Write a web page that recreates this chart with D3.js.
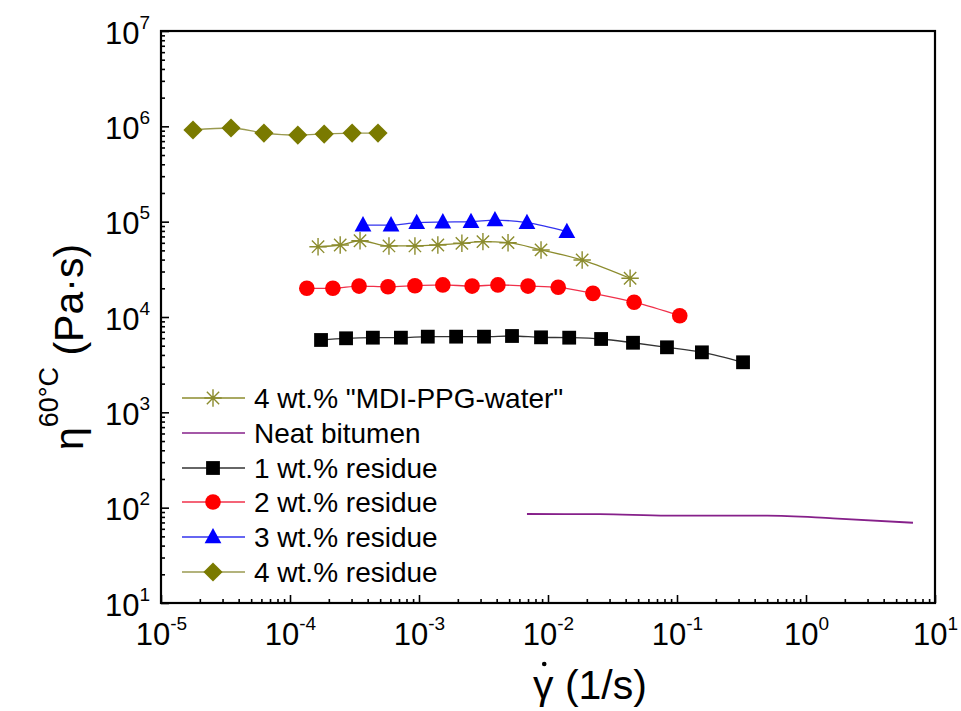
<!DOCTYPE html>
<html>
<head>
<meta charset="utf-8">
<script src="https://cdn.jsdelivr.net/npm/d3@7"></script>
<style>
  body { margin: 0; background: #fff; }
  svg { font-family: "Liberation Sans", Arial, sans-serif; }
</style>
</head>
<body>
<div id="chart"></div>
<script>
// shear rate (1/s) and viscosity (Pa.s)
var rateMdi = [1.65e-4, 2.45e-4, 3.49e-4, 5.85e-4, 9.3e-4, 1.40e-3, 2.15e-3, 3.13e-3, 4.9e-3, 8.83e-3, 1.84e-2, 4.33e-2]
var etaMdi  = [5.46e4, 5.69e4, 6.31e4, 5.56e4, 5.56e4, 5.69e4, 5.93e4, 6.17e4, 6.02e4, 5.05e4, 3.96e4, 2.55e4]

var rateNeat = [6.87e-3, 2.53e-2, 8.36e-2, 0.499, 1.62, 6.75]
var etaNeat  = [85.8, 85.6, 82.4, 82.4, 77.3, 69.5]

var rateRes1 = [1.74e-4, 2.72e-4, 4.39e-4, 7.24e-4, 1.17e-3, 1.94e-3, 3.19e-3, 5.26e-3, 8.83e-3, 1.46e-2, 2.58e-2, 4.56e-2, 8.36e-2, 0.156, 0.325]
var etaRes1  = [5.74e3, 5.98e3, 6.07e3, 6.07e3, 6.22e3, 6.22e3, 6.22e3, 6.32e3, 6.12e3, 6.07e3, 5.88e3, 5.37e3, 4.81e3, 4.26e3, 3.35e3]

var rateRes2 = [1.35e-4, 2.15e-4, 3.43e-4, 5.75e-4, 9.3e-4, 1.53e-3, 2.58e-3, 4.09e-3, 7.0e-3, 1.20e-2, 2.23e-2, 4.65e-2, 0.105]
var etaRes2  = [2.0e4, 2.0e4, 2.11e4, 2.08e4, 2.13e4, 2.17e4, 2.11e4, 2.17e4, 2.11e4, 2.05e4, 1.77e4, 1.43e4, 1.03e4]

var rateRes3 = [3.68e-4, 6.07e-4, 9.6e-4, 1.53e-3, 2.53e-3, 3.88e-3, 6.87e-3, 1.40e-2]
var etaRes3  = [9.2e4, 9.2e4, 9.75e4, 9.9e4, 1.0e5, 1.04e5, 9.75e4, 7.85e4]

var rateRes4 = [1.77e-5, 3.49e-5, 6.28e-5, 1.15e-4, 1.84e-4, 3.03e-4, 4.81e-4]
var etaRes4  = [9.15e5, 9.6e5, 8.5e5, 8.1e5, 8.3e5, 8.5e5, 8.5e5]

var xExps = [-5, -4, -3, -2, -1, 0, 1]
var yExps = [1, 2, 3, 4, 5, 6, 7]

var series = [
  {name: '4 wt.% "MDI-PPG-water"', x: rateMdi, y: etaMdi, line: '#8c8c2e', fill: '#8c8c2e', marker: 'star'},
  {name: 'Neat bitumen', x: rateNeat, y: etaNeat, line: '#86208a', fill: null, marker: 'none'},
  {name: '1 wt.% residue', x: rateRes1, y: etaRes1, line: '#333333', fill: '#000000', marker: 'square'},
  {name: '2 wt.% residue', x: rateRes2, y: etaRes2, line: '#f0304a', fill: '#ff0000', marker: 'circle'},
  {name: '3 wt.% residue', x: rateRes3, y: etaRes3, line: '#3333ee', fill: '#0000ff', marker: 'triangle'},
  {name: '4 wt.% residue', x: rateRes4, y: etaRes4, line: '#9a9a50', fill: '#7a7a00', marker: 'diamond'}
]

var margin = {left: 161, right: 26, top: 31, bottom: 108}
var W = 961, H = 711
var width = W - margin.left - margin.right
var height = H - margin.top - margin.bottom

var x = d3.scaleLog().domain([1e-5, 10]).range([0, width])
var y = d3.scaleLog().domain([10, 1e7]).range([height, 0])

var svg = d3.select('#chart').append('svg')
  .attr('width', W)
  .attr('height', H)

var g = svg.append('g').attr('transform', 'translate(' + margin.left + ',' + margin.top + ')')

// minor ticks at 2..9 of each decade
function minors(lo, hi) {
  var out = []
  for (var e = lo; e < hi; e++) {
    for (var k = 2; k <= 9; k++) out.push(k * Math.pow(10, e))
  }
  return out
}

g.append('g')
  .attr('transform', 'translate(0,' + height + ')')
  .call(d3.axisBottom(x).tickValues(minors(-5, 1)).tickSize(-4).tickFormat(''))
g.append('g')
  .call(d3.axisLeft(y).tickValues(minors(1, 7)).tickSize(-4).tickFormat(''))

var xAxis = g.append('g')
  .attr('class', 'x axis')
  .attr('transform', 'translate(0,' + height + ')')
  .call(d3.axisBottom(x).tickValues(xExps.map(function (e) { return Math.pow(10, e) })).tickSize(-8).tickPadding(10).tickFormat(''))

var yAxis = g.append('g')
  .attr('class', 'y axis')
  .call(d3.axisLeft(y).tickValues(yExps.map(function (e) { return Math.pow(10, e) })).tickSize(-8).tickPadding(11).tickFormat(''))

g.selectAll('.tick line').attr('stroke', '#000').attr('stroke-width', 1.6)
g.selectAll('.domain').remove()

// tick labels: 10 with superscript exponent
xAxis.selectAll('.tick text')
  .attr('dy', null).attr('y', 42)
  .style('font-size', '31px').attr('fill', '#000')
  .attr('text-anchor', 'middle')
  .each(function (d, i) {
    var t = d3.select(this)
    t.append('tspan').text('10')
    t.append('tspan').attr('dy', -15).style('font-size', '19px').text(xExps[i])
  })

yAxis.selectAll('.tick text')
  .attr('dy', null).attr('y', 12)
  .style('font-size', '31px').attr('fill', '#000')
  .attr('text-anchor', 'end')
  .each(function (d, i) {
    var t = d3.select(this)
    t.append('tspan').text('10')
    t.append('tspan').attr('dy', -15).style('font-size', '19px').text(yExps[i])
  })

// frame
g.append('rect')
  .attr('width', width).attr('height', height)
  .attr('fill', 'none').attr('stroke', '#000').attr('stroke-width', 2.2)

function drawMarker(sel, type, fill, cx, cy, s) {
  if (type === 'square') {
    sel.append('rect').attr('x', cx - s * 0.46).attr('y', cy - s * 0.46).attr('width', s * 0.92).attr('height', s * 0.92).attr('fill', fill)
  } else if (type === 'circle') {
    sel.append('circle').attr('cx', cx).attr('cy', cy).attr('r', s * 0.52).attr('fill', fill)
  } else if (type === 'triangle') {
    sel.append('path').attr('d', 'M' + cx + ',' + (cy - s * 0.6) + 'L' + (cx + s * 0.56) + ',' + (cy + s * 0.42) + 'L' + (cx - s * 0.56) + ',' + (cy + s * 0.42) + 'Z').attr('fill', fill)
  } else if (type === 'diamond') {
    sel.append('path').attr('d', 'M' + cx + ',' + (cy - s * 0.64) + 'L' + (cx + s * 0.64) + ',' + cy + 'L' + cx + ',' + (cy + s * 0.64) + 'L' + (cx - s * 0.64) + ',' + cy + 'Z').attr('fill', fill)
  } else if (type === 'star') {
    var r = s * 0.58
    var p = ''
    for (var a = 0; a < 4; a++) {
      var ang = a * Math.PI / 4
      var dx = r * Math.cos(ang), dy = r * Math.sin(ang)
      p += 'M' + (cx - dx) + ',' + (cy - dy) + 'L' + (cx + dx) + ',' + (cy + dy)
    }
    sel.append('path').attr('d', p).attr('stroke', fill).attr('stroke-width', 1.4).attr('fill', 'none')
  }
}

var line = d3.line()
  .x(function (d) { return x(d[0]) })
  .y(function (d) { return y(d[1]) })
  .curve(d3.curveMonotoneX)

series.forEach(function (s) {
  var pts = s.x.map(function (v, i) { return [v, s.y[i]] })
  g.append('path')
    .datum(pts)
    .attr('d', line)
    .attr('fill', 'none')
    .attr('stroke', s.line)
    .attr('stroke-width', s.marker === 'none' ? 1.8 : 1.3)
  var mg = g.append('g')
  pts.forEach(function (d) {
    drawMarker(mg, s.marker, s.fill, x(d[0]), y(d[1]), 15)
  })
})

// legend
var legend = svg.append('g')
var legY = [398, 433, 468, 502, 537, 572]
series.forEach(function (s, i) {
  legend.append('line')
    .attr('x1', 182).attr('x2', 245)
    .attr('y1', legY[i]).attr('y2', legY[i])
    .attr('stroke', s.line).attr('stroke-width', 1.3)
  drawMarker(legend, s.marker, s.fill, 213, legY[i], 15)
  legend.append('text')
    .attr('x', 254).attr('y', legY[i] + 10)
    .style('font-size', '28px')
    .text(s.name)
})

// axis titles
var xt = svg.append('text')
  .attr('x', 533).attr('y', 699)
  .style('font-size', '41px')
xt.append('tspan').text('\u03B3')
xt.append('tspan').text(' (1/s)')
var gw = xt.node().getSubStringLength(0, 1)
svg.append('circle')
  .attr('cx', 533 + gw / 2 + 1).attr('cy', 699 - 35)
  .attr('r', 2.3).attr('fill', '#000')

var yt = svg.append('text')
  .attr('transform', 'translate(83,' + 347 + ') rotate(-90)')
  .attr('text-anchor', 'middle')
  .style('font-size', '41px')
yt.append('tspan').text('\u03B7')
yt.append('tspan').attr('dy', -25).style('font-size', '27px').text('60\u00B0C')
yt.append('tspan').attr('dy', 25).text(' (Pa\u00B7s)')
</script>
</body>
</html>
